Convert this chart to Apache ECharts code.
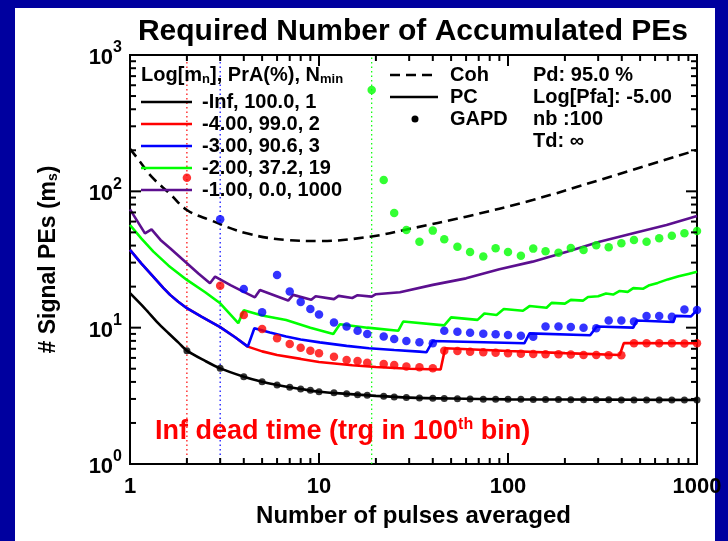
<!DOCTYPE html>
<html><head><meta charset="utf-8">
<script src="https://cdn.jsdelivr.net/npm/echarts@6/dist/echarts.min.js"></script>
<style>html,body{margin:0;padding:0;background:#00009f}#c{width:728px;height:541px}</style>
</head><body><div id="c"></div>
<script>
const FONT = '"Liberation Sans", Arial, Helvetica, sans-serif';

// tick labels
const xTickLabels = ['1', '10', '100', '1000'];
const yTickExp = ['0', '1', '2', '3'];
const xMajorTicks = [1, 10, 100, 1000];
const xMinorTicks = [2,3,4,5,6,7,8,9,20,30,40,50,60,70,80,90,200,300,400,500,600,700,800,900];
const yMajorTicks = [1, 10, 100, 1000];
const yMinorTicks = [2,3,4,5,6,7,8,9,20,30,40,50,60,70,80,90,200,300,400,500,600,700,800,900];

// threshold (N_min) marker positions
const nMinRed = 2, nMinBlue = 3, nMinGreen = 19;

// GAPD points
const nGapd = [2,3,4,5,6,7,8,9,10,12,14,16,18,22,25,29,34,40,46,54,63,74,86,100,117,136,158,185,215,251,293,341,398,464,541,631,736,858,1000];
const gapdBlack = [6.78,5.03,4.37,4.01,3.8,3.65,3.55,3.47,3.39,3.33,3.27,3.22,3.19,3.14,3.1,3.07,3.05,3.03,3.02,3.01,3.0,2.99,2.99,2.98,2.98,2.97,2.97,2.97,2.96,2.96,2.96,2.96,2.95,2.95,2.95,2.95,2.95,2.95,2.95];
const gapdRed = [126,20.3,12.4,9.78,8.36,7.59,7.13,6.78,6.49,6.13,5.79,5.69,5.53,5.42,5.33,5.2,5.12,5.03,6.78,6.75,6.67,6.6,6.55,6.49,6.45,6.4,6.38,6.38,6.35,6.3,6.3,6.27,6.27,7.68,7.68,7.7,7.68,7.66,7.68];
const nGapdBlue = [3,4,5,6,7,8,9,10,12,14,16,18,22,25,29,34,40,46,54,63,74,86,100,117,136,158,185,215,251,293,341,398,464,541,631,736,858,1000];
const gapdBlue = [62.4,19.2,13.0,24.3,18.4,15.4,13.7,12.5,10.9,10.2,9.5,9.0,8.6,8.26,7.98,7.81,7.7,9.5,9.35,9.19,9.04,8.94,8.84,8.74,8.59,10.2,10.2,10.1,10.0,9.9,11.3,11.3,11.1,12.2,12.2,12.0,13.6,13.5];
const nGapdGreen = [19,22,25,29,34,40,46,54,63,74,86,100,117,136,158,185,215,251,293,341,398,464,541,631,736,858,1000];
const gapdGreen = [554,121,69.3,52,42.7,51.5,44.5,39.3,35.9,33.2,38.2,35.9,33.7,38.0,36.3,35.5,38.4,37.1,40.2,38.9,41.6,44,42.7,45.2,47.3,49.3,51.2];

// PC curves
const nPcBlack = [1,1.2,1.4,1.6,1.8,2,2.5,3,4,5,6,7,8,10,14,20,30,50,100,200,500,1000];
const pcBlack = [17.9,13.8,10.9,9.1,7.8,6.78,5.7,5.03,4.37,4.01,3.8,3.65,3.55,3.39,3.27,3.16,3.07,3.02,2.98,2.97,2.96,2.95];
const nPcRed = [1,1.15,1.33,1.5,1.63,1.8,2,2.4,3,3.6,4.2,5,6,8,10,15,20,30,44,46.5,100,200,390,410,1000];
const pcRed = [37.2,29.5,23.6,19.6,17.4,15.5,13.9,12.0,10.1,8.5,7.26,6.7,6.3,5.9,5.6,5.3,5.15,5.0,4.93,7.07,6.75,6.5,6.3,7.7,7.68];
const nPcBlue = [1,1.15,1.33,1.5,1.63,1.8,2,2.4,3,3.6,4.2,4.55,5.5,6.7,8,10.1,14,18.4,25,34,37,40,122,130,272,295,460,480,750,770,930,1000];
const pcBlue = [37.2,29.5,23.6,19.6,17.4,15.5,13.9,12.0,10.1,8.5,7.26,9.9,9.2,8.6,8.2,7.8,7.35,7.06,6.85,6.67,6.6,7.98,7.68,9.08,8.8,10.2,10.0,11.3,11.0,12.2,12.1,13.5];
const nPcGreen = [1,1.15,1.33,1.6,2,2.5,3,3.74,4.0,5,6.7,9,11.9,12.9,18,26.3,27.9,46,50,69,75,87,95,120,130,160,170,200,215,250,265,300,330,360,390,430,460,520,560,620,700,800,900,1000];
const pcGreen = [56.6,45,36.1,28.5,22.4,18.2,15.1,10.8,13.4,12.3,11.4,10.0,9.0,10.6,10.0,9.5,11.1,10.4,11.9,11.4,12.7,12.4,13.7,13.3,14.4,14.0,15.2,15.0,16.0,15.8,16.8,17.0,17.8,17.5,18.6,18.3,19.5,19.3,20.5,21.3,22.6,23.8,24.8,25.7];
const nPcPurple = [1,1.2,1.3,1.45,1.63,2,2.3,2.65,2.82,3.4,4,4.58,4.87,6.87,7.3,9.1,9.6,12,12.7,15,16,19,20,26.8,40,60,90,135,205,305,460,690,1000];
const pcPurple = [73.8,49.2,52.6,44,38.2,29.7,25,21.2,23.7,20.5,18.3,16.7,18.9,15.8,17.4,16.0,17.0,16.2,17.1,16.5,17.3,16.9,17.6,18.2,20.6,23.0,26.8,30.5,36.1,42.7,49.2,56.6,65.9];

// Coherent curve
const nCoh = [1,1.13,1.3,1.63,2,2.65,4.14,6.75,10.1,18.6,30,60,135,305,1000];
const coh = [205,165,128,95.6,73,61.6,49.2,44,43.2,46.5,53,65.2,86.4,121,201];

const zip = (a, b) => a.map((v, i) => [v, b[i]]);

const C = { black:'#000000', red:'#ff0000', blue:'#0000ff', green:'#00ff00', purple:'#5c0f8f' };

function lineSeries(name, n, v, color, extra) {
  return Object.assign({
    name, type:'line', data: zip(n, v), symbol:'none', smooth:false,
    lineStyle:{ color, width:2.6 }, z:3, silent:true, animation:false
  }, extra || {});
}
function dotSeries(name, n, v, color, size) {
  return { name, type:'scatter', data: zip(n, v), symbol:'circle', symbolSize:size,
    itemStyle:{ color }, z:5, silent:true, animation:false };
}
function vLine(n, color) {
  return { type:'line', data:[[n,1],[n,1000]], symbol:'none',
    lineStyle:{ color, width:1.2, type:[1.5,3] }, z:2, silent:true, animation:false };
}
function xTicks(values, len) {
  return { type:'custom', data: values.map(v => [v, 1]), silent:true, animation:false, z:6,
    renderItem(params, api) {
      const v = api.value(0);
      const b = api.coord([v, 1]), t = api.coord([v, 1000]);
      return { type:'group', children:[
        { type:'line', shape:{ x1:b[0], y1:b[1], x2:b[0], y2:b[1]-len }, style:{ stroke:'#000', lineWidth:2 } },
        { type:'line', shape:{ x1:t[0], y1:t[1], x2:t[0], y2:t[1]+len }, style:{ stroke:'#000', lineWidth:2 } }
      ]};
    } };
}
function yTicks(values, len) {
  return { type:'custom', data: values.map(v => [1, v]), silent:true, animation:false, z:6,
    renderItem(params, api) {
      const v = api.value(1);
      const l = api.coord([1, v]), r = api.coord([1000, v]);
      return { type:'group', children:[
        { type:'line', shape:{ x1:l[0], y1:l[1], x2:l[0]+len, y2:l[1] }, style:{ stroke:'#000', lineWidth:2 } },
        { type:'line', shape:{ x1:r[0], y1:r[1], x2:r[0]-len, y2:r[1] }, style:{ stroke:'#000', lineWidth:2 } }
      ]};
    } };
}

const chart = echarts.init(document.getElementById('c'), null, { renderer:'canvas' });

const legTxt = { fontFamily: FONT, fontWeight:'bold', fontSize:20, fill:'#000' };
function gText(x, y, text, opts) {
  return { type:'text', x, y, z:10, style: Object.assign({ text, textVerticalAlign:'middle', textAlign:'left' }, legTxt, opts || {}) };
}
function gLine(x1, x2, y, color, dash) {
  return { type:'line', z:10, shape:{ x1, y1:y, x2, y2:y }, style:{ stroke:color, lineWidth:2.6, lineDash: dash || null } };
}
const subRich = {
  t: { fontFamily: FONT, fontWeight:'bold', fontSize:20, fill:'#000' },
  s: { fontFamily: FONT, fontWeight:'bold', fontSize:13, fill:'#000', padding:[8,0,0,0] }
};

const option = {
  backgroundColor:'#00009f',
  animation:false,
  graphic: [
    { type:'rect', z:-10, shape:{ x:15, y:8, width:700, height:540 }, style:{ fill:'#ffffff' } },
    { type:'text', x:413, y:32, z:10, style:{ text:'Required Number of Accumulated PEs', fontFamily:FONT, fontWeight:'bold', fontSize:30, fill:'#000', textAlign:'center', textVerticalAlign:'middle' } },
    // left legend
    { type:'text', x:141, y:75, z:10, style:{ text:'{t|Log[m}{s|n}{t|], PrA(%), N}{s|min}', rich: subRich, textVerticalAlign:'middle' } },
    gLine(141, 192, 102, C.black), gText(202, 102, '-Inf, 100.0, 1'),
    gLine(141, 192, 124, C.red),   gText(202, 124, '-4.00, 99.0, 2'),
    gLine(141, 192, 146, C.blue),  gText(202, 146, '-3.00, 90.6, 3'),
    gLine(141, 192, 168, C.green), gText(202, 168, '-2.00, 37.2, 19'),
    gLine(141, 192, 190, C.purple),gText(202, 190, '-1.00, 0.0, 1000'),
    // right legend
    gLine(390, 438, 75, C.black, [10, 6]), gText(450, 75, 'Coh'),
    gLine(390, 438, 97, C.black), gText(450, 97, 'PC'),
    { type:'circle', z:10, shape:{ cx:415, cy:119, r:3.5 }, style:{ fill:'#000' } }, gText(450, 119, 'GAPD'),
    gText(533, 75, 'Pd: 95.0 %'), gText(533, 97, 'Log[Pfa]: -5.00'), gText(533, 119, 'nb :100'), gText(533, 141, 'Td: \u221e'),
    // annotation
    { type:'text', x:155, y:432, z:10, style:{ text:'{a|Inf dead time (trg in 100}{b|th}{a| bin)}', textVerticalAlign:'middle',
      rich:{ a:{ fontFamily:FONT, fontWeight:'bold', fontSize:27, fill:'#ff0000' }, b:{ fontFamily:FONT, fontWeight:'bold', fontSize:16, fill:'#ff0000', padding:[0,0,14,0] } } } }
  ],
  grid:{ left:130, top:55, width:567, height:409, show:true, borderColor:'#000', borderWidth:2, backgroundColor:'transparent', containLabel:false },
  xAxis:{ type:'log', logBase:10, min:1, max:1000,
    axisLine:{ show:false }, axisTick:{ show:false }, splitLine:{ show:false }, minorTick:{ show:false },
    axisLabel:{ margin:12, color:'#000', fontFamily:FONT, fontWeight:'bold', fontSize:22,
      formatter:(v) => xTickLabels[Math.round(Math.log10(v))] },
    name:'Number of pulses averaged', nameLocation:'middle', nameGap:40,
    nameTextStyle:{ color:'#000', fontFamily:FONT, fontWeight:'bold', fontSize:24 } },
  yAxis:{ type:'log', logBase:10, min:1, max:1000,
    axisLine:{ show:false }, axisTick:{ show:false }, splitLine:{ show:false }, minorTick:{ show:false },
    axisLabel:{ margin:8, color:'#000',
      formatter:(v) => '{b|10}{s|' + yTickExp[Math.round(Math.log10(v))] + '}',
      rich:{ b:{ fontFamily:FONT, fontWeight:'bold', fontSize:22, color:'#000', padding:[6,0,0,0] },
             s:{ fontFamily:FONT, fontWeight:'bold', fontSize:16, color:'#000', padding:[0,0,14,0] } } },
    name:'{t|# Signal PEs (m}{s|s}{t|)}', nameLocation:'middle', nameGap:70, nameRotate:90,
    nameTextStyle:{ color:'#000', rich:{ t:{ fontFamily:FONT, fontWeight:'bold', fontSize:23, color:'#000' },
      s:{ fontFamily:FONT, fontWeight:'bold', fontSize:14, color:'#000', padding:[9,0,0,0] } } } },
  series:[
    vLine(nMinRed, C.red), vLine(nMinBlue, C.blue), vLine(nMinGreen, C.green),
    lineSeries('Coh', nCoh, coh, C.black, { lineStyle:{ color:'#000', width:2.6, type:[10,6] }, smooth:0.4 }),
    lineSeries('purple', nPcPurple, pcPurple, C.purple),
    lineSeries('green', nPcGreen, pcGreen, C.green),
    lineSeries('red', nPcRed, pcRed, C.red),
    lineSeries('blue', nPcBlue, pcBlue, C.blue),
    lineSeries('black', nPcBlack, pcBlack, C.black, { smooth:0.3 }),
    dotSeries('gB', nGapd, gapdBlack, C.black, 7),
    dotSeries('gR', nGapd, gapdRed, C.red, 8.5),
    dotSeries('gBl', nGapdBlue, gapdBlue, C.blue, 8.5),
    dotSeries('gG', nGapdGreen, gapdGreen, C.green, 8.5),
    xTicks(xMajorTicks, 11), xTicks(xMinorTicks, 6),
    yTicks(yMajorTicks, 11), yTicks(yMinorTicks, 6)
  ]
};
chart.setOption(option);
</script></body></html>
